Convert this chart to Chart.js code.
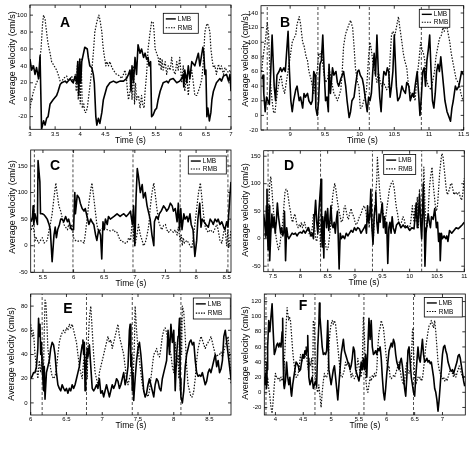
<!DOCTYPE html>
<html><head><meta charset="utf-8">
<script src="https://cdn.jsdelivr.net/npm/chart.js@4.4.1/dist/chart.umd.min.js"></script>
<style>
body{margin:0;background:#fff}
#wrap{position:relative;width:472px;height:454px;background:#fff}
canvas{position:absolute;left:0;top:0}
</style></head><body>
<div id="wrap">
<canvas id="cA" width="472" height="454"></canvas>
<canvas id="cB" width="472" height="454"></canvas>
<canvas id="cC" width="472" height="454"></canvas>
<canvas id="cD" width="472" height="454"></canvas>
<canvas id="cE" width="472" height="454"></canvas>
<canvas id="cF" width="472" height="454"></canvas>
</div>
<script>
// ---------------- DATA: [time (s), average velocity (cm/s)] ----------------
const A_LMB = [[3.00,48],[3.03,35],[3.07,40],[3.10,30],[3.13,38],[3.17,25],[3.20,52],[3.23,-35],[3.27,-25],[3.30,-30],[3.33,-22],[3.36,-20],[3.40,-5],[3.46,0],[3.53,5],[3.56,10],[3.60,18],[3.63,20],[3.70,22],[3.73,20],[3.80,25],[3.83,22],[3.86,20],[3.90,28],[3.93,20],[3.95,45],[3.97,5],[3.99,48],[4.01,20],[4.03,45],[4.09,62],[4.14,60],[4.16,50],[4.19,40],[4.23,38],[4.26,30],[4.28,20],[4.31,-20],[4.33,-30],[4.36,-22],[4.39,-28],[4.43,-15],[4.46,0],[4.53,15],[4.59,20],[4.66,22],[4.72,20],[4.79,22],[4.86,22],[4.92,25],[4.96,30],[4.99,35],[5.01,10],[5.03,40],[5.06,20],[5.09,50],[5.12,30],[5.15,65],[5.19,55],[5.22,60],[5.26,50],[5.29,55],[5.32,48],[5.35,50],[5.37,40],[5.40,45],[5.42,-20],[5.45,-18],[5.49,-12],[5.52,-10],[5.55,0],[5.59,10],[5.65,20],[5.72,22],[5.75,20],[5.79,24],[5.85,25],[5.92,20],[5.98,22],[6.02,25],[6.05,30],[6.06,15],[6.08,35],[6.12,20],[6.15,40],[6.18,25],[6.22,45],[6.28,40],[6.35,55],[6.38,40],[6.44,62],[6.46,55],[6.48,30],[6.50,35],[6.52,-20],[6.54,-10],[6.57,-25],[6.60,-15],[6.62,0],[6.65,10],[6.68,15],[6.71,20],[6.78,25],[6.81,22],[6.85,28],[6.91,30],[6.95,22],[6.98,30],[7.00,10]];
const A_RMB = [[3.00,-10],[3.03,0],[3.07,10],[3.10,15],[3.13,20],[3.17,25],[3.19,30],[3.20,50],[3.22,60],[3.25,90],[3.27,100],[3.30,95],[3.33,80],[3.35,70],[3.38,60],[3.40,55],[3.43,45],[3.46,42],[3.50,38],[3.53,35],[3.56,30],[3.60,22],[3.63,20],[3.66,25],[3.73,28],[3.76,22],[3.80,25],[3.83,28],[3.86,20],[3.90,30],[3.92,10],[3.94,40],[3.96,0],[3.98,45],[4.00,-5],[4.02,48],[4.04,-10],[4.07,-5],[4.09,-15],[4.11,-15],[4.14,-10],[4.16,0],[4.19,15],[4.23,35],[4.26,55],[4.29,80],[4.33,92],[4.37,100],[4.39,95],[4.43,80],[4.45,65],[4.47,55],[4.51,40],[4.53,45],[4.56,40],[4.59,45],[4.63,38],[4.66,35],[4.72,30],[4.79,28],[4.82,25],[4.86,30],[4.89,35],[4.92,25],[4.94,10],[4.96,0],[4.99,10],[5.01,35],[5.03,0],[5.06,40],[5.08,-5],[5.10,20],[5.12,0],[5.16,5],[5.19,-10],[5.22,5],[5.24,-5],[5.27,-10],[5.29,10],[5.32,30],[5.35,60],[5.39,80],[5.42,92],[5.45,92],[5.47,80],[5.49,60],[5.52,55],[5.55,50],[5.57,40],[5.59,50],[5.61,35],[5.63,48],[5.65,35],[5.69,45],[5.72,30],[5.75,40],[5.79,35],[5.82,50],[5.85,35],[5.89,30],[5.92,45],[5.95,35],[5.98,50],[6.02,20],[6.05,40],[6.08,10],[6.12,30],[6.15,5],[6.18,25],[6.22,35],[6.25,20],[6.28,5],[6.32,5],[6.35,10],[6.38,15],[6.42,25],[6.45,45],[6.48,80],[6.52,90],[6.55,88],[6.58,80],[6.60,60],[6.63,45],[6.65,38],[6.68,40],[6.71,30],[6.75,42],[6.78,35],[6.81,40],[6.85,30],[6.88,38],[6.91,35],[6.95,32],[6.98,35],[7.00,32]];

const B_LMB = [[8.59,50],[8.61,55],[8.62,30],[8.64,5],[8.66,25],[8.68,20],[8.70,15],[8.72,60],[8.74,110],[8.77,40],[8.79,20],[8.81,55],[8.84,60],[8.86,65],[8.88,60],[8.91,65],[8.93,60],[8.97,115],[8.99,60],[9.01,20],[9.03,5],[9.05,20],[9.08,35],[9.10,40],[9.13,20],[9.15,25],[9.18,10],[9.20,30],[9.22,25],[9.25,30],[9.27,20],[9.30,15],[9.32,20],[9.34,60],[9.36,55],[9.37,10],[9.39,0],[9.41,20],[9.43,70],[9.45,75],[9.47,110],[9.49,60],[9.51,20],[9.53,25],[9.55,5],[9.56,70],[9.58,30],[9.61,65],[9.63,55],[9.66,60],[9.68,45],[9.70,40],[9.73,50],[9.75,55],[9.77,60],[9.80,40],[9.82,20],[9.85,-3],[9.87,5],[9.89,20],[9.92,25],[9.94,40],[9.97,60],[9.99,62],[10.01,55],[10.04,50],[10.06,40],[10.08,25],[10.11,5],[10.13,25],[10.15,20],[10.17,30],[10.19,60],[10.21,85],[10.23,55],[10.25,110],[10.27,60],[10.29,25],[10.31,5],[10.33,40],[10.35,60],[10.38,55],[10.40,65],[10.42,60],[10.44,25],[10.46,40],[10.48,60],[10.50,110],[10.53,40],[10.55,20],[10.58,25],[10.61,40],[10.63,35],[10.66,30],[10.68,45],[10.71,40],[10.73,20],[10.76,30],[10.78,25],[10.80,40],[10.83,60],[10.85,30],[10.87,0],[10.89,25],[10.91,60],[10.93,65],[10.95,40],[10.97,75],[10.99,90],[11.01,110],[11.03,60],[11.05,20],[11.07,10],[11.09,30],[11.11,60],[11.13,70],[11.15,60],[11.17,80],[11.19,60],[11.21,40],[11.23,20],[11.26,5],[11.28,0],[11.31,-8],[11.33,10],[11.35,20],[11.38,40],[11.40,35],[11.43,40],[11.45,50],[11.47,60],[11.50,55]];
const B_RMB = [[8.59,60],[8.61,80],[8.64,100],[8.67,127],[8.69,110],[8.70,80],[8.72,40],[8.74,20],[8.76,5],[8.78,3],[8.80,20],[8.83,40],[8.85,50],[8.87,55],[8.89,40],[8.92,30],[8.96,55],[9.00,80],[9.03,100],[9.05,105],[9.08,110],[9.10,125],[9.13,135],[9.15,125],[9.18,100],[9.20,95],[9.23,80],[9.25,75],[9.27,60],[9.30,50],[9.32,40],[9.34,30],[9.37,55],[9.39,60],[9.41,85],[9.43,80],[9.45,88],[9.47,70],[9.49,55],[9.51,45],[9.54,50],[9.56,65],[9.58,55],[9.61,40],[9.63,30],[9.66,25],[9.68,20],[9.70,25],[9.73,35],[9.75,60],[9.77,95],[9.80,112],[9.85,125],[9.87,130],[9.90,120],[9.92,95],[9.94,65],[9.97,45],[9.99,40],[10.01,10],[10.03,10],[10.06,20],[10.08,25],[10.10,35],[10.13,80],[10.15,100],[10.17,90],[10.20,65],[10.22,60],[10.25,45],[10.27,60],[10.30,45],[10.32,40],[10.34,45],[10.37,40],[10.39,35],[10.42,40],[10.44,80],[10.46,110],[10.48,115],[10.51,110],[10.54,125],[10.56,135],[10.58,120],[10.61,100],[10.63,85],[10.65,75],[10.68,65],[10.70,45],[10.73,30],[10.75,25],[10.78,30],[10.80,20],[10.82,45],[10.85,70],[10.88,100],[10.90,90],[10.92,85],[10.94,75],[10.96,50],[10.99,40],[11.03,35],[11.08,60],[11.10,80],[11.13,95],[11.15,105],[11.18,110],[11.20,120],[11.22,115],[11.25,125],[11.27,115],[11.30,100],[11.32,85],[11.34,75],[11.37,60],[11.39,50],[11.42,45],[11.44,40],[11.46,30],[11.49,20]];

const C_LMB = [[5.31,45],[5.33,55],[5.34,75],[5.35,40],[5.37,60],[5.39,50],[5.41,40],[5.42,160],[5.45,120],[5.46,60],[5.49,60],[5.52,58],[5.54,55],[5.57,50],[5.60,40],[5.62,30],[5.65,-30],[5.68,20],[5.70,35],[5.72,15],[5.74,30],[5.77,40],[5.79,50],[5.81,50],[5.84,45],[5.87,55],[5.90,45],[5.92,50],[5.95,35],[5.97,30],[6.00,30],[6.02,100],[6.03,60],[6.06,95],[6.09,90],[6.11,80],[6.14,70],[6.17,65],[6.19,70],[6.22,55],[6.25,40],[6.28,50],[6.30,45],[6.33,40],[6.36,20],[6.38,10],[6.41,30],[6.44,20],[6.46,-25],[6.48,45],[6.50,30],[6.52,50],[6.55,40],[6.57,55],[6.60,50],[6.66,55],[6.71,60],[6.76,55],[6.79,58],[6.82,60],[6.86,55],[6.90,60],[6.93,65],[6.94,55],[6.96,40],[6.98,75],[7.00,0],[7.02,90],[7.04,145],[7.06,130],[7.09,100],[7.12,115],[7.14,90],[7.17,100],[7.20,75],[7.23,60],[7.25,50],[7.28,20],[7.31,0],[7.32,45],[7.35,55],[7.38,50],[7.40,60],[7.43,65],[7.47,75],[7.50,70],[7.52,65],[7.55,70],[7.58,80],[7.61,75],[7.63,65],[7.66,70],[7.69,45],[7.71,80],[7.73,30],[7.75,70],[7.77,30],[7.78,40],[7.80,60],[7.82,50],[7.85,55],[7.87,45],[7.90,60],[7.92,40],[7.95,30],[7.98,-20],[8.01,10],[8.03,50],[8.06,80],[8.08,35],[8.10,50],[8.13,45],[8.16,40],[8.20,35],[8.23,50],[8.26,45],[8.28,40],[8.31,50],[8.34,45],[8.36,50],[8.39,40],[8.42,45],[8.45,35],[8.47,30],[8.50,45],[8.52,35],[8.55,90],[8.57,120]];
const C_RMB = [[5.31,30],[5.33,40],[5.35,30],[5.375,10],[5.39,15],[5.41,10],[5.43,5],[5.46,10],[5.49,15],[5.52,5],[5.57,10],[5.60,30],[5.62,40],[5.65,60],[5.68,90],[5.71,118],[5.73,100],[5.76,75],[5.79,65],[5.81,55],[5.84,40],[5.87,35],[5.90,30],[5.92,40],[5.95,30],[5.97,40],[5.99,25],[6.00,15],[6.03,10],[6.06,8],[6.11,10],[6.17,5],[6.19,20],[6.22,50],[6.25,80],[6.28,105],[6.30,118],[6.33,90],[6.36,60],[6.38,40],[6.41,25],[6.44,30],[6.49,35],[6.55,30],[6.60,28],[6.66,30],[6.68,25],[6.71,25],[6.76,10],[6.79,10],[6.82,5],[6.87,5],[6.90,15],[6.93,10],[6.95,35],[6.97,50],[6.98,10],[7.01,5],[7.04,25],[7.06,40],[7.09,20],[7.12,10],[7.14,0],[7.17,5],[7.20,20],[7.23,40],[7.25,70],[7.28,100],[7.31,118],[7.33,100],[7.36,70],[7.39,45],[7.42,35],[7.44,30],[7.47,38],[7.50,40],[7.52,30],[7.55,25],[7.58,30],[7.63,25],[7.66,30],[7.69,20],[7.71,35],[7.74,10],[7.76,20],[7.775,0],[7.79,15],[7.81,5],[7.85,10],[7.88,5],[7.90,0],[7.93,-5],[7.96,20],[7.98,40],[8.01,70],[8.04,100],[8.07,118],[8.09,95],[8.12,60],[8.15,35],[8.17,30],[8.20,25],[8.23,30],[8.28,25],[8.34,40],[8.36,30],[8.39,10],[8.42,5],[8.45,25],[8.47,35],[8.50,0],[8.52,30],[8.53,-5],[8.55,10],[8.57,30]];

const D_LMB = [[7.33,45],[7.35,25],[7.37,5],[7.38,60],[7.39,90],[7.40,10],[7.41,-20],[7.42,30],[7.43,60],[7.44,-40],[7.46,10],[7.48,45],[7.50,20],[7.52,40],[7.54,10],[7.56,30],[7.58,65],[7.60,40],[7.62,25],[7.64,10],[7.66,20],[7.68,5],[7.70,15],[7.71,50],[7.72,10],[7.73,-40],[7.75,20],[7.77,5],[7.79,0],[7.82,5],[7.85,10],[7.88,8],[7.91,10],[7.94,5],[7.97,10],[8.00,12],[8.03,10],[8.06,15],[8.09,10],[8.12,15],[8.15,20],[8.18,10],[8.20,5],[8.22,10],[8.24,0],[8.26,40],[8.28,70],[8.30,30],[8.32,10],[8.34,50],[8.36,80],[8.38,108],[8.39,20],[8.40,-15],[8.41,40],[8.43,-35],[8.44,30],[8.46,50],[8.48,20],[8.50,55],[8.52,15],[8.54,30],[8.56,60],[8.58,25],[8.60,20],[8.62,30],[8.64,10],[8.66,35],[8.68,50],[8.69,15],[8.71,-55],[8.73,10],[8.75,0],[8.78,5],[8.81,0],[8.84,10],[8.87,5],[8.90,10],[8.93,15],[8.96,12],[8.99,20],[9.02,15],[9.05,20],[9.08,18],[9.11,10],[9.14,15],[9.17,20],[9.19,25],[9.21,10],[9.23,60],[9.25,30],[9.27,40],[9.29,90],[9.31,20],[9.33,-10],[9.35,40],[9.37,60],[9.38,85],[9.40,30],[9.42,10],[9.44,45],[9.46,30],[9.48,50],[9.50,65],[9.52,20],[9.54,40],[9.56,10],[9.58,30],[9.60,-45],[9.62,20],[9.64,30],[9.66,10],[9.68,40],[9.70,20],[9.73,10],[9.76,25],[9.80,30],[9.84,20],[9.88,25],[9.92,20],[9.96,22],[10.00,15],[10.04,20],[10.08,18],[10.10,40],[10.12,65],[10.14,20],[10.16,40],[10.18,80],[10.20,30],[10.22,0],[10.24,60],[10.25,100],[10.27,20],[10.28,-50],[10.30,10],[10.32,30],[10.34,45],[10.36,30],[10.38,20],[10.40,40],[10.43,35],[10.46,55],[10.49,20],[10.51,30],[10.53,-5],[10.55,10],[10.56,-40],[10.58,10],[10.60,0],[10.63,5],[10.66,0],[10.68,5],[10.70,-5],[10.73,15],[10.77,10],[10.81,15],[10.85,20],[10.89,18],[10.93,22],[10.96,25],[11.00,30]];
const D_RMB = [[7.33,5],[7.35,10],[7.37,0],[7.38,10],[7.40,5],[7.42,50],[7.44,100],[7.46,113],[7.48,90],[7.50,60],[7.52,40],[7.54,20],[7.56,0],[7.58,-10],[7.60,-20],[7.62,-15],[7.64,0],[7.66,15],[7.68,30],[7.70,60],[7.72,85],[7.74,90],[7.76,88],[7.78,75],[7.80,60],[7.82,50],[7.84,35],[7.86,30],[7.88,40],[7.90,45],[7.92,35],[7.94,25],[7.96,20],[7.98,25],[8.00,22],[8.02,30],[8.04,20],[8.06,25],[8.08,30],[8.10,20],[8.12,15],[8.14,20],[8.16,10],[8.18,5],[8.20,10],[8.22,20],[8.24,45],[8.26,20],[8.28,0],[8.30,-5],[8.32,10],[8.34,40],[8.36,10],[8.37,-15],[8.39,45],[8.41,15],[8.43,5],[8.45,-5],[8.47,-15],[8.49,-20],[8.51,-15],[8.53,0],[8.55,20],[8.57,50],[8.59,75],[8.61,90],[8.63,100],[8.65,90],[8.67,75],[8.69,60],[8.71,50],[8.73,40],[8.75,30],[8.78,35],[8.80,55],[8.82,60],[8.84,50],[8.86,40],[8.88,35],[8.90,45],[8.93,55],[8.95,45],[8.98,40],[9.00,30],[9.02,25],[9.05,30],[9.08,40],[9.11,45],[9.14,55],[9.17,60],[9.20,50],[9.22,30],[9.24,45],[9.26,20],[9.28,60],[9.30,40],[9.32,10],[9.34,5],[9.36,50],[9.38,80],[9.40,110],[9.41,148],[9.43,120],[9.45,90],[9.47,70],[9.49,60],[9.51,50],[9.53,40],[9.55,30],[9.57,45],[9.59,60],[9.61,75],[9.63,90],[9.66,100],[9.69,105],[9.72,90],[9.74,70],[9.76,55],[9.78,45],[9.80,30],[9.82,25],[9.85,30],[9.88,40],[9.90,35],[9.93,20],[9.96,25],[9.99,15],[10.02,30],[10.05,60],[10.08,30],[10.10,60],[10.12,30],[10.14,75],[10.16,20],[10.18,90],[10.20,30],[10.22,40],[10.24,50],[10.26,130],[10.28,60],[10.30,30],[10.32,20],[10.34,50],[10.36,90],[10.38,110],[10.41,130],[10.43,100],[10.45,80],[10.47,60],[10.49,50],[10.51,60],[10.53,90],[10.55,120],[10.57,140],[10.59,155],[10.61,150],[10.63,130],[10.65,110],[10.67,90],[10.69,80],[10.71,85],[10.73,90],[10.75,100],[10.77,100],[10.79,90],[10.81,80],[10.84,85],[10.87,80],[10.90,85],[10.93,75],[10.95,70],[10.97,80],[11.00,110]];

const E_LMB = [[6.00,20],[6.02,22],[6.04,25],[6.06,25],[6.08,30],[6.10,45],[6.11,70],[6.12,55],[6.13,65],[6.14,40],[6.15,50],[6.16,30],[6.17,20],[6.18,10],[6.19,30],[6.20,3],[6.22,25],[6.24,30],[6.26,35],[6.28,45],[6.30,50],[6.32,48],[6.34,40],[6.36,25],[6.38,15],[6.40,12],[6.42,10],[6.44,15],[6.46,12],[6.48,10],[6.50,12],[6.52,8],[6.54,12],[6.56,10],[6.58,15],[6.60,12],[6.62,15],[6.64,20],[6.66,25],[6.68,30],[6.70,40],[6.72,48],[6.73,52],[6.74,40],[6.75,50],[6.76,10],[6.77,25],[6.79,45],[6.80,38],[6.82,48],[6.84,30],[6.86,12],[6.88,10],[6.90,12],[6.92,15],[6.94,12],[6.96,20],[6.98,8],[7.00,10],[7.02,5],[7.04,10],[7.06,15],[7.08,10],[7.10,5],[7.12,10],[7.14,15],[7.16,12],[7.18,15],[7.20,20],[7.22,18],[7.24,12],[7.26,15],[7.28,20],[7.30,25],[7.32,15],[7.34,20],[7.36,30],[7.38,60],[7.39,65],[7.40,30],[7.41,40],[7.42,10],[7.43,25],[7.44,2],[7.46,20],[7.48,35],[7.50,45],[7.52,50],[7.54,40],[7.56,25],[7.58,10],[7.60,5],[7.62,8],[7.64,15],[7.66,20],[7.68,15],[7.70,10],[7.72,5],[7.74,15],[7.76,20],[7.78,18],[7.80,12],[7.82,10],[7.84,20],[7.86,25],[7.88,30],[7.90,35],[7.92,60],[7.94,40],[7.96,65],[7.98,50],[8.00,60],[8.02,10],[8.04,40],[8.06,55],[8.07,60],[8.08,70],[8.09,20],[8.10,5],[8.12,0],[8.14,10],[8.16,30],[8.18,40],[8.20,45],[8.22,50],[8.24,52],[8.26,48],[8.28,50],[8.30,35],[8.32,25],[8.34,22],[8.36,23],[8.38,22],[8.40,25],[8.42,20],[8.44,15],[8.46,18],[8.48,25],[8.50,28],[8.52,25],[8.54,30],[8.56,35],[8.58,40],[8.60,30],[8.62,35],[8.64,25],[8.66,28],[8.68,35],[8.70,55],[8.72,60],[8.74,50],[8.76,40],[8.78,30],[8.80,20]];
const E_RMB = [[6.00,65],[6.02,55],[6.04,58],[6.06,40],[6.08,30],[6.10,20],[6.12,35],[6.14,25],[6.16,40],[6.18,30],[6.19,60],[6.20,85],[6.21,84],[6.22,75],[6.23,60],[6.24,45],[6.26,35],[6.28,28],[6.30,22],[6.32,20],[6.34,22],[6.36,28],[6.38,40],[6.40,50],[6.42,55],[6.44,58],[6.46,60],[6.48,58],[6.50,62],[6.52,60],[6.54,65],[6.56,62],[6.58,65],[6.60,60],[6.62,55],[6.64,50],[6.66,40],[6.68,30],[6.70,25],[6.72,20],[6.74,35],[6.76,40],[6.77,30],[6.78,40],[6.79,20],[6.80,45],[6.82,70],[6.84,80],[6.86,60],[6.88,40],[6.90,25],[6.92,20],[6.94,15],[6.96,25],[6.98,30],[7.00,35],[7.02,40],[7.04,45],[7.06,50],[7.08,55],[7.10,50],[7.12,52],[7.14,45],[7.16,50],[7.18,55],[7.20,60],[7.22,65],[7.24,55],[7.26,50],[7.28,45],[7.30,40],[7.32,30],[7.34,20],[7.36,15],[7.38,20],[7.40,25],[7.41,30],[7.43,15],[7.45,50],[7.46,80],[7.48,60],[7.50,45],[7.52,35],[7.54,25],[7.56,15],[7.58,10],[7.60,5],[7.62,8],[7.64,5],[7.66,10],[7.68,20],[7.70,30],[7.72,40],[7.74,42],[7.76,45],[7.78,40],[7.80,38],[7.82,45],[7.84,55],[7.86,60],[7.88,62],[7.90,58],[7.92,50],[7.94,45],[7.96,40],[7.98,30],[8.00,25],[8.02,50],[8.04,30],[8.06,40],[8.07,20],[8.08,60],[8.09,10],[8.10,70],[8.11,40],[8.12,80],[8.14,75],[8.16,55],[8.18,30],[8.20,15],[8.22,10],[8.24,5],[8.26,5],[8.28,10],[8.30,20],[8.32,35],[8.34,45],[8.36,50],[8.38,55],[8.40,52],[8.42,48],[8.44,45],[8.46,48],[8.48,50],[8.50,52],[8.52,55],[8.54,50],[8.56,45],[8.58,40],[8.60,38],[8.62,40],[8.64,40],[8.66,42],[8.68,38],[8.70,42],[8.72,48],[8.74,50],[8.76,55],[8.78,40],[8.80,15]];

const F_LMB = [[3.80,20],[3.81,10],[3.82,25],[3.83,15],[3.84,5],[3.85,30],[3.86,60],[3.88,95],[3.90,80],[3.92,100],[3.94,117],[3.96,80],[3.98,50],[4.00,55],[4.02,62],[4.04,65],[4.06,60],[4.08,65],[4.10,60],[4.12,80],[4.13,98],[4.14,40],[4.15,10],[4.16,5],[4.18,15],[4.20,40],[4.22,20],[4.24,10],[4.26,20],[4.28,0],[4.29,-5],[4.31,10],[4.33,20],[4.35,30],[4.37,40],[4.39,38],[4.41,35],[4.43,28],[4.45,30],[4.47,40],[4.49,50],[4.51,45],[4.53,55],[4.55,50],[4.57,60],[4.58,75],[4.59,45],[4.60,20],[4.62,10],[4.64,15],[4.66,20],[4.68,5],[4.70,10],[4.72,15],[4.74,8],[4.76,60],[4.78,90],[4.79,118],[4.80,100],[4.82,80],[4.84,60],[4.86,50],[4.88,52],[4.90,50],[4.92,55],[4.94,95],[4.96,30],[4.98,20],[5.00,10],[5.02,20],[5.04,30],[5.06,35],[5.08,20],[5.10,5],[5.12,-10],[5.14,10],[5.16,30],[5.18,50],[5.20,60],[5.22,70],[5.24,55],[5.26,50],[5.28,45],[5.30,40],[5.32,38],[5.34,30],[5.36,35],[5.38,45],[5.40,60],[5.42,55],[5.44,30],[5.46,25],[5.48,20],[5.50,15],[5.52,25],[5.54,40],[5.56,30],[5.58,45],[5.60,30],[5.62,50],[5.64,20],[5.66,60],[5.68,98],[5.70,70],[5.72,95],[5.74,60],[5.76,50],[5.78,52],[5.80,55],[5.82,50],[5.84,58],[5.86,55],[5.88,60],[5.90,45],[5.92,20],[5.94,0],[5.96,-10],[5.98,5],[6.00,25],[6.02,40],[6.04,55],[6.06,60],[6.08,65],[6.10,60],[6.12,70],[6.14,65],[6.16,50],[6.18,40],[6.20,35],[6.22,30],[6.24,40],[6.26,45],[6.28,35],[6.30,20],[6.32,5],[6.34,-5],[6.36,20],[6.38,55],[6.40,60],[6.42,40],[6.44,20],[6.46,10],[6.48,0],[6.50,-5],[6.52,20],[6.54,40],[6.56,60],[6.58,45],[6.60,40],[6.62,55],[6.64,70],[6.66,50],[6.68,40],[6.70,42],[6.72,45],[6.74,40],[6.76,42],[6.78,38],[6.80,40],[6.82,30],[6.84,20],[6.86,5],[6.88,0],[6.90,-10],[6.92,-25],[6.94,-10],[6.96,10],[6.98,30],[7.00,50],[7.02,60],[7.04,62],[7.06,55],[7.08,50],[7.10,40],[7.12,35],[7.14,30],[7.16,28],[7.18,30],[7.20,25],[7.22,30],[7.24,35],[7.26,40],[7.28,48],[7.30,50],[7.32,45],[7.34,35],[7.36,25],[7.38,15],[7.40,8]];
const F_RMB = [[3.80,85],[3.81,60],[3.82,30],[3.83,10],[3.84,40],[3.85,10],[3.86,20],[3.88,5],[3.90,-5],[3.92,-20],[3.94,-28],[3.96,-10],[3.98,10],[4.00,25],[4.02,20],[4.04,18],[4.06,20],[4.08,15],[4.10,20],[4.12,15],[4.14,20],[4.16,40],[4.18,70],[4.20,100],[4.21,112],[4.22,105],[4.24,95],[4.25,100],[4.27,95],[4.29,75],[4.31,55],[4.33,40],[4.35,30],[4.37,20],[4.39,20],[4.41,25],[4.43,35],[4.45,50],[4.47,40],[4.49,45],[4.51,50],[4.53,45],[4.55,60],[4.57,40],[4.59,30],[4.61,40],[4.63,35],[4.65,45],[4.67,20],[4.68,95],[4.70,90],[4.71,60],[4.72,20],[4.74,5],[4.76,0],[4.78,10],[4.80,-5],[4.82,-20],[4.84,0],[4.86,15],[4.88,25],[4.90,20],[4.92,20],[4.94,25],[4.96,60],[4.98,80],[5.00,90],[5.02,95],[5.04,90],[5.06,95],[5.08,90],[5.10,75],[5.12,60],[5.14,45],[5.16,30],[5.18,20],[5.20,20],[5.22,25],[5.24,30],[5.26,40],[5.28,35],[5.30,40],[5.32,35],[5.34,30],[5.36,20],[5.38,25],[5.40,20],[5.42,18],[5.44,20],[5.46,30],[5.48,45],[5.50,35],[5.52,25],[5.54,20],[5.56,40],[5.58,100],[5.60,70],[5.62,20],[5.64,5],[5.66,0],[5.68,10],[5.70,20],[5.72,15],[5.74,22],[5.76,20],[5.78,25],[5.80,20],[5.82,30],[5.84,60],[5.86,80],[5.88,85],[5.90,95],[5.92,90],[5.94,85],[5.96,70],[5.98,55],[6.00,40],[6.02,30],[6.04,35],[6.06,20],[6.08,18],[6.10,20],[6.12,22],[6.14,20],[6.16,25],[6.18,30],[6.20,35],[6.22,40],[6.24,30],[6.26,20],[6.28,15],[6.30,10],[6.32,15],[6.34,30],[6.36,40],[6.38,30],[6.40,25],[6.42,30],[6.44,40],[6.46,80],[6.47,85],[6.48,60],[6.50,20],[6.52,10],[6.54,15],[6.56,20],[6.58,18],[6.60,20],[6.62,15],[6.64,18],[6.66,30],[6.68,45],[6.70,60],[6.72,70],[6.74,80],[6.76,88],[6.78,90],[6.80,95],[6.82,90],[6.84,85],[6.86,95],[6.88,80],[6.90,60],[6.92,40],[6.94,30],[6.96,25],[6.98,20],[7.00,18],[7.02,20],[7.04,15],[7.06,18],[7.08,15],[7.10,20],[7.12,25],[7.14,30],[7.16,28],[7.18,25],[7.20,20],[7.22,25],[7.24,20],[7.26,25],[7.28,30],[7.30,35],[7.32,30],[7.34,25],[7.36,20],[7.38,22],[7.40,20]];

// dashed vertical event markers (s)
const B_EVENTS = [8.67, 9.40, 10.14, 10.89];
const C_EVENTS = [5.36, 5.99, 6.97, 7.74, 8.52];
const D_EVENTS = [7.41, 8.37, 9.32, 10.22];
const E_EVENTS = [6.16, 6.78, 7.42, 8.10];
const F_EVENTS = [3.83, 4.71, 5.59, 6.48];

// tick values
const A_XTICKS = [3,3.5,4,4.5,5,5.5,6,6.5,7];
const A_YTICKS = [-20,0,20,40,60,80,100];
const B_XTICKS = [9,9.5,10,10.5,11,11.5];
const B_YTICKS = [-20,0,20,40,60,80,100,120,140];
const C_XTICKS = [5.5,6,6.5,7,7.5,8,8.5];
const C_YTICKS = [-50,0,50,100,150];
const D_XTICKS = [7.5,8,8.5,9,9.5,10,10.5,11];
const D_YTICKS = [-50,0,50,100,150];
const E_XTICKS = [6,6.5,7,7.5,8,8.5];
const E_YTICKS = [0,20,40,60,80];
const F_XTICKS = [4,4.5,5,5.5,6,6.5,7];
const F_YTICKS = [-20,0,20,40,60,80,100,120];

// axis ranges
const A_XRANGE = [3,7],      A_YRANGE = [-35,112];
const B_XRANGE = [8.58,11.5], B_YRANGE = [-20,150];
const C_XRANGE = [5.3,8.57], C_YRANGE = [-50,180];
const D_XRANGE = [7.33,11],  D_YRANGE = [-60,160];
const E_XRANGE = [6,8.8],    E_YRANGE = [-10,90];
const F_XRANGE = [3.8,7.41], F_YRANGE = [-30,130];

// ---------------- LAYOUT ----------------
const FONT = "'Liberation Sans', Arial, Helvetica, sans-serif";
const W = 472, H = 454, YW = 26, XH = 18;
const PANELS = [
  {id:'cA', letter:'A', lmb:A_LMB, rmb:A_RMB, ev:[],       xr:A_XRANGE, yr:A_YRANGE, xt:A_XTICKS, yt:A_YTICKS,
   area:[30,5,231,129.3],   lp:[65,23],  leg:[163.3,13.3,35,20], yl:[12.5,58]},
  {id:'cB', letter:'B', lmb:B_LMB, rmb:B_RMB, ev:B_EVENTS, xr:B_XRANGE, yr:B_YRANGE, xt:B_XTICKS, yt:B_YTICKS,
   area:[261,5.7,463.7,130], lp:[285,23], leg:[419.3,9.3,30.5,18], yl:[246,60]},
  {id:'cC', letter:'C', lmb:C_LMB, rmb:C_RMB, ev:C_EVENTS, xr:C_XRANGE, yr:C_YRANGE, xt:C_XTICKS, yt:C_YTICKS,
   area:[30.7,150,231,272.3], lp:[55,166], leg:[188.3,156,38,18], yl:[13,207]},
  {id:'cD', letter:'D', lmb:D_LMB, rmb:D_RMB, ev:D_EVENTS, xr:D_XRANGE, yr:D_YRANGE, xt:D_XTICKS, yt:D_YTICKS,
   area:[263.7,150.7,464.3,271.7], lp:[289,166], leg:[383.7,154.5,32,20], yl:[246,210]},
  {id:'cE', letter:'E', lmb:E_LMB, rmb:E_RMB, ev:E_EVENTS, xr:E_XRANGE, yr:E_YRANGE, xt:E_XTICKS, yt:E_YTICKS,
   area:[30.7,294,231,415], lp:[68,309.5], leg:[193.3,298,37,21], yl:[12,354]},
  {id:'cF', letter:'F', lmb:F_LMB, rmb:F_RMB, ev:F_EVENTS, xr:F_XRANGE, yr:F_YRANGE, xt:F_XTICKS, yt:F_YTICKS,
   area:[264.3,294,465.3,415], lp:[303,306.5], leg:[424.3,297.5,38,19.5], yl:[246,353]}
];

function decorPlugin(p){
  return {
    id:'decor'+p.letter,
    afterDraw(chart){
      const ctx = chart.ctx, a = chart.chartArea, xs = chart.scales.x, ys = chart.scales.y;
      ctx.save();
      ctx.strokeStyle = '#000'; ctx.lineWidth = 0.8; ctx.setLineDash([]);
      ctx.strokeRect(a.left, a.top, a.right - a.left, a.bottom - a.top);
      ctx.beginPath();
      p.xt.forEach(v => { const px = xs.getPixelForValue(v);
        ctx.moveTo(px, a.bottom); ctx.lineTo(px, a.bottom - 3);
        ctx.moveTo(px, a.top); ctx.lineTo(px, a.top + 3); });
      p.yt.forEach(v => { const py = ys.getPixelForValue(v);
        ctx.moveTo(a.left, py); ctx.lineTo(a.left + 3, py);
        ctx.moveTo(a.right, py); ctx.lineTo(a.right - 3, py); });
      ctx.stroke();
      // panel letter
      ctx.fillStyle = '#000';
      ctx.font = 'bold 14px ' + FONT; ctx.textAlign = 'center'; ctx.textBaseline = 'middle';
      ctx.fillText(p.letter, p.lp[0], p.lp[1]);
      // legend box
      const [lx, ly, lw, lh] = p.leg;
      ctx.fillStyle = '#fff'; ctx.fillRect(lx, ly, lw, lh);
      ctx.lineWidth = 0.8; ctx.strokeStyle = '#000'; ctx.strokeRect(lx, ly, lw, lh);
      const y1 = ly + lh * 0.28, y2 = ly + lh * 0.72;
      ctx.lineWidth = 1.4; ctx.beginPath(); ctx.moveTo(lx + 2.5, y1); ctx.lineTo(lx + 12.5, y1); ctx.stroke();
      ctx.lineWidth = 1.1; ctx.setLineDash([1.4, 1.2]);
      ctx.beginPath(); ctx.moveTo(lx + 2.5, y2); ctx.lineTo(lx + 12.5, y2); ctx.stroke(); ctx.setLineDash([]);
      ctx.fillStyle = '#000'; ctx.font = '6.5px ' + FONT; ctx.textAlign = 'left'; ctx.textBaseline = 'middle';
      ctx.fillText(chart.data.datasets[0].label, lx + 14.5, y1 + 0.3);
      ctx.fillText(chart.data.datasets[1].label, lx + 14.5, y2 + 0.3);
      // y axis title
      ctx.font = '9px ' + FONT; ctx.textAlign = 'center'; ctx.textBaseline = 'middle';
      ctx.translate(p.yl[0], p.yl[1]); ctx.rotate(-Math.PI / 2);
      ctx.fillText('Average velocity (cm/s)', 0, 0);
      ctx.restore();
    }
  };
}

function makeChart(p){
  const ev = [];
  p.ev.forEach(t => { ev.push({x:t, y:p.yr[0]}, {x:t, y:p.yr[1]}, {x:t, y:null}); });
  const [L, T, R, B] = p.area;
  new Chart(document.getElementById(p.id), {
    type: 'line',
    data: { datasets: [
      { label:'LMB', data:p.lmb.map(d => ({x:d[0], y:d[1]})), borderColor:'#000', borderWidth:1.6,
        pointRadius:0, pointHitRadius:0, tension:0, fill:false, borderJoinStyle:'round' },
      { label:'RMB', data:p.rmb.map(d => ({x:d[0], y:d[1]})), borderColor:'#111', borderWidth:1.2,
        borderDash:[1.5,1.5], pointRadius:0, pointHitRadius:0, tension:0, fill:false, borderJoinStyle:'round' },
      { label:'events', data:ev, borderColor:'#222', borderWidth:0.8, borderDash:[3,2],
        pointRadius:0, pointHitRadius:0, spanGaps:false, fill:false }
    ]},
    options: {
      responsive:false, animation:false, devicePixelRatio:1, events:[],
      layout:{ autoPadding:false, padding:{ left:L - YW, top:T, right:W - R, bottom:H - B - XH } },
      plugins:{ legend:{display:false}, tooltip:{enabled:false} },
      scales:{
        x:{ type:'linear', min:p.xr[0], max:p.xr[1],
            afterBuildTicks:s => { s.ticks = p.xt.map(v => ({value:v})); },
            afterFit:s => { s.height = XH; s.paddingLeft = 0; s.paddingRight = 0; },
            grid:{display:false, drawTicks:false}, border:{display:false},
            ticks:{ autoSkip:false, maxRotation:0, color:'#000', padding:1,
                    font:{family:FONT, size:6}, callback:v => String(v) },
            title:{ display:true, text:'Time (s)', color:'#000',
                    font:{family:FONT, size:8.5}, padding:{top:0, bottom:1.9} } },
        y:{ type:'linear', min:p.yr[0], max:p.yr[1],
            afterBuildTicks:s => { s.ticks = p.yt.map(v => ({value:v})); },
            afterFit:s => { s.width = YW; s.paddingTop = 0; s.paddingBottom = 0; },
            grid:{display:false, drawTicks:false}, border:{display:false},
            ticks:{ autoSkip:false, color:'#000', padding:3,
                    font:{family:FONT, size:6}, callback:v => String(v) } }
      }
    },
    plugins:[decorPlugin(p)]
  });
}
PANELS.forEach(makeChart);
</script>
</body></html>
